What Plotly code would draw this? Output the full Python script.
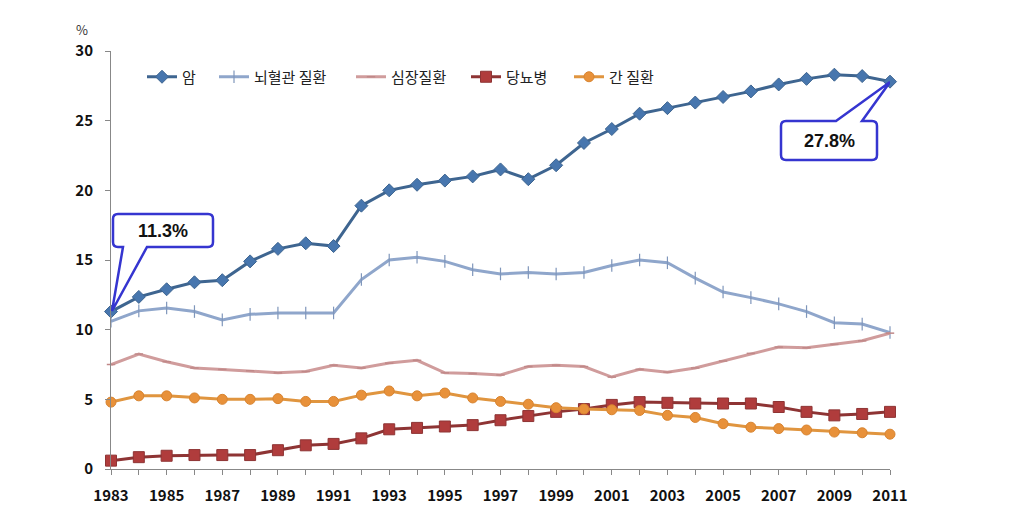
import plotly.graph_objects as go

years = list(range(1983, 2012))
cancer = [11.3, 12.35, 12.9, 13.4, 13.55, 14.9, 15.8, 16.2, 16.0, 18.9, 20.0, 20.4, 20.7, 21.0, 21.5,
          20.8, 21.8, 23.4, 24.4, 25.5, 25.9, 26.3, 26.7, 27.1, 27.6, 28.0, 28.3, 28.2, 27.8]
cerebro = [10.6, 11.35, 11.55, 11.3, 10.7, 11.1, 11.2, 11.2, 11.2, 13.6, 15.0, 15.2, 14.9, 14.3, 14.0,
           14.1, 14.0, 14.1, 14.6, 15.0, 14.8, 13.7, 12.7, 12.3, 11.85, 11.3, 10.5, 10.4, 9.8]
heart = [7.5, 8.25, 7.7, 7.25, 7.15, 7.05, 6.9, 7.0, 7.45, 7.25, 7.6, 7.8, 6.9, 6.85, 6.75,
         7.35, 7.45, 7.35, 6.6, 7.15, 6.95, 7.25, 7.75, 8.3, 8.75, 8.7, 8.95, 9.2, 9.75]
diabetes = [0.6, 0.85, 0.95, 1.0, 1.0, 1.0, 1.35, 1.7, 1.8, 2.2, 2.85, 2.95, 3.05, 3.15, 3.5,
            3.8, 4.1, 4.3, 4.6, 4.8, 4.75, 4.7, 4.7, 4.7, 4.45, 4.1, 3.85, 3.95, 4.1]
liver = [4.8, 5.25, 5.25, 5.1, 5.0, 5.0, 5.05, 4.85, 4.85, 5.3, 5.6, 5.25, 5.45, 5.1, 4.85,
         4.65, 4.4, 4.3, 4.25, 4.2, 3.85, 3.7, 3.25, 3.0, 2.9, 2.8, 2.65, 2.6, 2.5]
names = ["암", "뇌혈관 질환", "심장질환", "당뇨병", "간 질환"]
callout_texts = ["11.3%", "27.8%"]

OFF = 8  # default page body margin
W, H = 1016 - 2 * OFF, 522 - 2 * OFF
# plot area in window pixels
L, R, T, B = 111, 890, 51, 469
XMIN, XMAX, YMIN, YMAX = 1983, 2011, 0, 30


def dx(px):
    return XMIN + (px - L) / (R - L) * (XMAX - XMIN)


def dy(py):
    return YMIN + (B - py) / (B - T) * (YMAX - YMIN)


def px_paper(px):
    return (px - L) / (R - L)


def py_paper(py):
    return (B - py) / (B - T)


def path(points):
    s = ""
    for cmd, *pts in points:
        s += cmd + " "
        s += " ".join(f"{dx(pts[i]):.5f},{dy(pts[i+1]):.5f}" for i in range(0, len(pts), 2)) + " "
    return s + "Z"


fig = go.Figure()

font_kr = "Noto Sans CJK KR"

specs = [
    (cancer, dict(color="#3E6590", width=3), dict(symbol="diamond", size=10, color="#4776AE",
                                                   line=dict(width=1, color="#3E6590"))),
    (cerebro, dict(color="#8FA6CB", width=3), dict(symbol="line-ns", size=9,
                                                    line=dict(width=1.2, color="#7F96BB"))),
    (heart, dict(color="#D09C9C", width=3), dict(symbol="line-ew", size=6,
                                                  line=dict(width=1.5, color="#C08888"))),
    (diabetes, dict(color="#8E3434", width=3), dict(symbol="square", size=11, color="#B03C3C",
                                                     line=dict(width=1, color="#8E3434"))),
    (liver, dict(color="#E0953F", width=3), dict(symbol="circle", size=10, color="#E8913A",
                                                  line=dict(width=1, color="#D88430"))),
]
legend_line_start = [148, 220, 357, 472, 575]
legend_ids = ["legend", "legend2", "legend3", "legend4", "legend5"]

for (vals, ln, mk), nm, lid in zip(specs, names, legend_ids):
    fig.add_trace(go.Scatter(x=years, y=vals, mode="lines+markers", name=nm, line=ln, marker=mk,
                             cliponaxis=False, legend=lid))

legend_layout = {}
for lid, px in zip(legend_ids, legend_line_start):
    legend_layout[lid] = dict(
        x=px_paper(px - 6), xanchor="left",
        y=py_paper(77), yanchor="middle",
        orientation="h", bgcolor="rgba(0,0,0,0)",
        font=dict(family=font_kr, size=15, color="#222"),
        itemwidth=30, tracegroupgap=0,
    )

# callouts
blue = "#3535D0"
c1 = [("M", 118, 214), ("L", 208, 214), ("Q", 213, 214, 213, 219), ("L", 213, 242),
      ("Q", 213, 247, 208, 247), ("L", 147, 247), ("L", 112, 311), ("L", 123, 247),
      ("L", 118, 247), ("Q", 113, 247, 113, 242), ("L", 113, 219), ("Q", 113, 214, 118, 214)]
c2 = [("M", 786, 121), ("L", 836, 121), ("L", 890, 82), ("L", 862, 121), ("L", 872, 121),
      ("Q", 877, 121, 877, 126), ("L", 877, 155), ("Q", 877, 160, 872, 160), ("L", 786, 160),
      ("Q", 781, 160, 781, 155), ("L", 781, 126), ("Q", 781, 121, 786, 121)]
shapes = []
for c in (c1, c2):
    shapes.append(dict(type="path", xref="x", yref="y", path=path(c), fillcolor="white",
                       line=dict(color=blue, width=2.5), layer="above"))

annotations = [
    dict(x=dx(163), y=dy(231), xref="x", yref="y", text=f"<b>{callout_texts[0]}</b>", showarrow=False,
         font=dict(family="Liberation Sans, Arial", size=18, color="#111")),
    dict(x=dx(829), y=dy(141), xref="x", yref="y", text=f"<b>{callout_texts[1]}</b>", showarrow=False,
         font=dict(family="Liberation Sans, Arial", size=18, color="#111")),
    dict(x=px_paper(82), y=py_paper(30), xref="paper", yref="paper", text="%",
         xanchor="center", yanchor="middle",
         showarrow=False, font=dict(family=font_kr, size=13, color="#333")),
]

fig.update_layout(
    width=W, height=H,
    margin=dict(l=L - OFF, r=W - (R - OFF), t=T - OFF, b=H - (B - OFF), pad=0, autoexpand=False),
    paper_bgcolor="white", plot_bgcolor="white",
    showlegend=True,
    shapes=shapes, annotations=annotations,
    **legend_layout,
)
fig.update_xaxes(range=[XMIN, XMAX], tick0=1983, dtick=2, ticks="outside", ticklen=5, tickcolor="#888",
                 showline=True, linecolor="#888", linewidth=1, showgrid=False, zeroline=False,
                 ticklabelstandoff=8, automargin=False,
                 tickfont=dict(family=font_kr, size=15, color="#111", weight="bold"),
                 minor=dict(dtick=1, tick0=1983, ticks="outside", ticklen=5, tickcolor="#888", showgrid=False))
fig.update_yaxes(range=[YMIN, YMAX], dtick=5, ticks="outside", ticklen=5, tickcolor="#888",
                 showline=True, linecolor="#888", linewidth=1, showgrid=False, zeroline=False,
                 ticklabelstandoff=9, automargin=False,
                 tickfont=dict(family=font_kr, size=15, color="#111", weight="bold"))

fig.write_html("out.html")
